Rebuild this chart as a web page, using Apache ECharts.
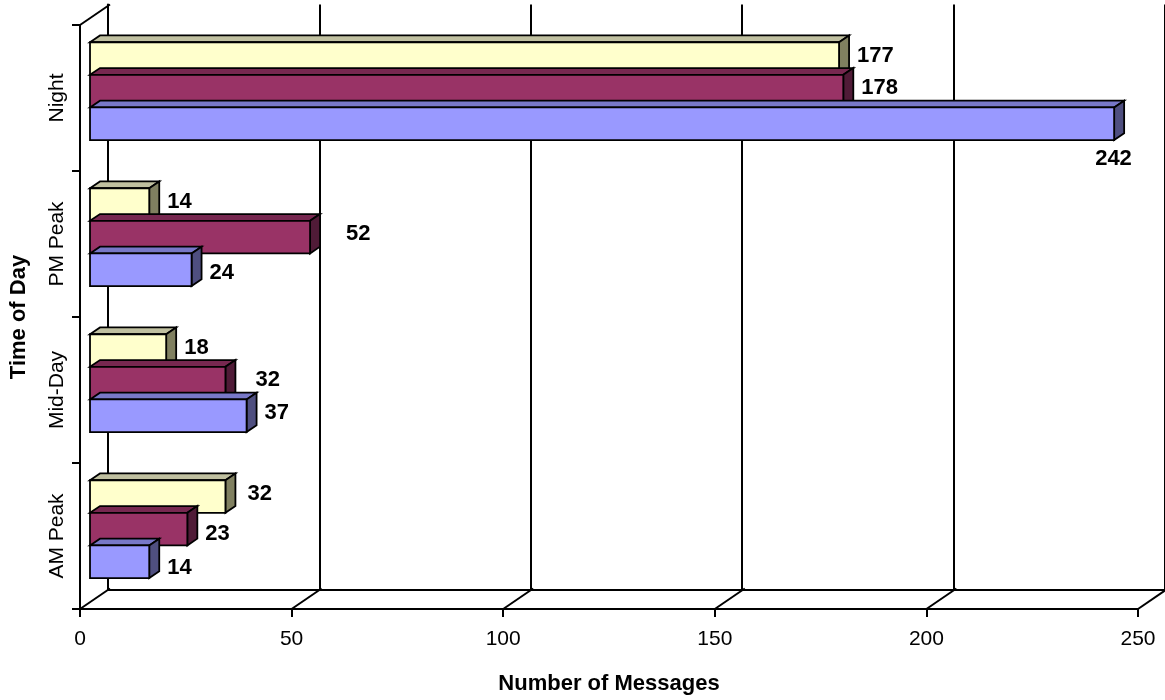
<!DOCTYPE html>
<html>
<head>
<meta charset="utf-8">
<script src="https://cdn.jsdelivr.net/npm/echarts@6/dist/echarts.min.js"></script>
<style>
  html, body { margin: 0; padding: 0; background: #fff; }
  #chart { width: 1165px; height: 700px; }
</style>
</head>
<body>
<div id="chart"></div>
<script>
// categories, bottom to top as drawn
var categories = ['AM Peak', 'Mid-Day', 'PM Peak', 'Night'];
// three series, top bar of each group first
var yellowValues = [32, 18, 14, 177];
var maroonValues = [23, 32, 52, 178];
var blueValues   = [14, 37, 24, 242];
var xTicks = [0, 50, 100, 150, 200, 250];

// look of the fake 3D
var depth = { x: 30, y: -20.5 };   // front edge of floor -> back wall
var fontName = "'Liberation Sans', Arial, sans-serif";
var lineW = 2;
var faces = {
    yellow: { front: '#FFFFCC', top: '#C0C0A0', side: '#808060' },
    maroon: { front: '#993366', top: '#772850', side: '#501B37' },
    blue:   { front: '#9999FF', top: '#7878C8', side: '#4F4F80' }
};
// Excel put a few labels in odd spots, nudge them: [dx, dy]
var labelNudge = {
    'blue-3': [-37, 38],
    'maroon-2': [18, 0],
    'maroon-1': [12, 0],
    'yellow-0': [4, 0],
    'blue-2': [0, 6],
    'maroon-0': [0, 8],
    'blue-0': [0, 9]
};

var chart = echarts.init(document.getElementById('chart'), null, { renderer: 'canvas' });

var makeBars = function(key, slot, values){
    var f = faces[key];
    return {
        type: 'custom',
        name: key,
        xAxisIndex: 0,
        yAxisIndex: 0,
        encode: { x: 0, y: 1 },
        data: values.map(function(v, i){ return [v, i]; }),
        z: 10 + slot,
        renderItem: function(params, api){
            var val = api.value(0), cat = api.value(1);
            var dx = depth.x / 3, dy = depth.y / 3;
            var band = api.size([0, 1])[1];
            var groupH = band * 0.67;
            var barH = groupH / 3;
            var base = api.coord([0, cat]);
            var end = api.coord([val, cat]);
            var x0 = base[0] + dx, x1 = end[0] + dx;
            var top = base[1] - groupH / 2 + slot * barH + dy;
            var bottom = top + barH;
            var line = { stroke: '#000', lineWidth: 1.8, lineJoin: 'miter' };
            var nudge = labelNudge[key + '-' + cat] || [0, 0];
            return {
                type: 'group',
                children: [
                    { type: 'polygon', shape: { points: [[x0, top], [x0 + dx, top + dy], [x1 + dx, top + dy], [x1, top]] },
                      style: Object.assign({ fill: f.top }, line) },
                    { type: 'polygon', shape: { points: [[x1, top], [x1 + dx, top + dy], [x1 + dx, bottom + dy], [x1, bottom]] },
                      style: Object.assign({ fill: f.side }, line) },
                    { type: 'rect', shape: { x: x0, y: top, width: x1 - x0, height: barH },
                      style: Object.assign({ fill: f.front }, line) },
                    { type: 'text', z2: 50,
                      x: x1 + dx + 8 + nudge[0], y: (top + bottom) / 2 - 3 + nudge[1],
                      style: { text: String(val), fill: '#000', font: 'bold 22px ' + fontName,
                               align: 'left', verticalAlign: 'middle', textAlign: 'left', textVerticalAlign: 'middle' } }
                ]
            };
        }
    };
};

// floor diagonals + the top-left edge of the side wall
var floorLines = {
    type: 'custom',
    xAxisIndex: 0,
    yAxisIndex: 0,
    encode: { x: 0 },
    data: xTicks.map(function(v){ return [v]; }),
    z: 3,
    silent: true,
    renderItem: function(params, api){
        var cs = params.coordSys;
        var x = api.coord([api.value(0), 0])[0];
        var yb = cs.y + cs.height;
        var lineStyle = { stroke: '#000', lineWidth: lineW };
        var kids = [
            { type: 'line', shape: { x1: x, y1: yb, x2: x + depth.x, y2: yb + depth.y }, style: lineStyle }
        ];
        if(params.dataIndex === 0){
            kids.push({ type: 'line', shape: { x1: x, y1: cs.y, x2: x + depth.x, y2: cs.y + depth.y }, style: lineStyle });
        }
        return { type: 'group', children: kids };
    }
};

var option = {
    backgroundColor: '#fff',
    animation: false,
    grid: [
        { left: 78, top: 25, width: 1060, height: 585 },                     // front plane
        { left: 78 + depth.x, top: 25 + depth.y, width: 1060, height: 585 }  // back wall
    ],
    xAxis: [
        {
            type: 'value', gridIndex: 0, min: 0, max: 250, interval: 50,
            axisLine: { show: true, lineStyle: { color: '#000', width: lineW } },
            axisTick: { show: true, length: 8, lineStyle: { color: '#000', width: lineW } },
            axisLabel: { color: '#000', fontSize: 21, fontFamily: fontName, margin: 20 },
            splitLine: { show: false },
            name: 'Number of Messages', nameLocation: 'middle', nameGap: 64,
            nameTextStyle: { color: '#000', fontSize: 22, fontWeight: 'bold', fontFamily: fontName }
        },
        {
            type: 'value', gridIndex: 1, min: 0, max: 250, interval: 50,
            axisLine: { show: true, lineStyle: { color: '#000', width: lineW } },
            axisTick: { show: false },
            axisLabel: { show: false },
            splitLine: { show: true, lineStyle: { color: '#000', width: lineW } }
        }
    ],
    yAxis: [
        {
            type: 'category', gridIndex: 0, data: categories,
            axisLine: { show: true, lineStyle: { color: '#000', width: lineW } },
            axisTick: { show: true, length: 8, lineStyle: { color: '#000', width: lineW } },
            axisLabel: { color: '#000', fontSize: 21, fontFamily: fontName, rotate: 90, margin: 12 },
            name: 'Time of Day', nameLocation: 'middle', nameGap: 50, nameRotate: 90,
            nameTextStyle: { color: '#000', fontSize: 22, fontWeight: 'bold', fontFamily: fontName }
        },
        {
            type: 'category', gridIndex: 1, data: categories,
            axisLine: { show: true, lineStyle: { color: '#000', width: lineW } },
            axisTick: { show: false },
            axisLabel: { show: false },
            splitLine: { show: false }
        }
    ],
    series: [
        floorLines,
        makeBars('blue', 2, blueValues),
        makeBars('maroon', 1, maroonValues),
        makeBars('yellow', 0, yellowValues)
    ]
};

chart.setOption(option);
</script>
</body>
</html>
